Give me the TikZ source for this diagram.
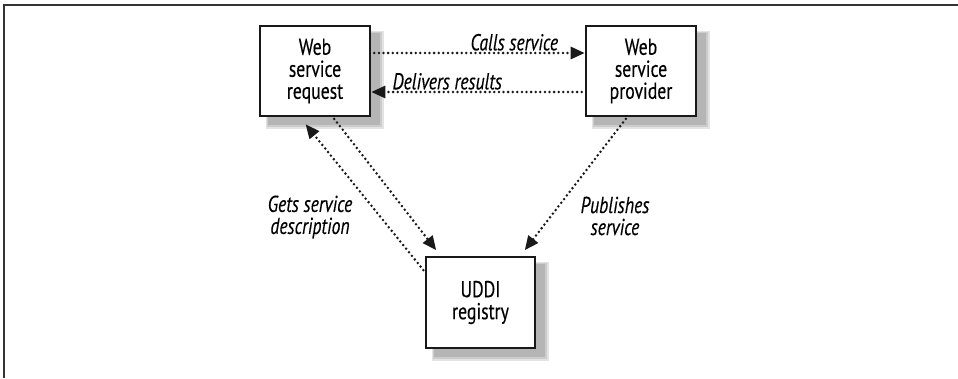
\documentclass[tikz,border=0pt]{standalone}
\usepackage{fontspec}
\setmainfont{PT Sans}[FakeStretch=0.77, FakeBold=0.3]
\usetikzlibrary{arrows.meta}
\tikzset{
  box/.style={draw=black!90, line width=2.6pt, fill=white, minimum width=110pt, minimum height=90pt, align=center, inner sep=0pt, font=\fontsize{23pt}{22pt}\selectfont},
  dotline/.style={draw=black!90, line width=2.8pt, line cap=round, dash pattern=on 0pt off 4.6pt, -{Triangle[length=14pt,width=12pt]}},
  lbl/.style={font=\fontsize{23pt}{22pt}\selectfont\itshape, align=center, inner sep=1pt, text=black},
}
\newcommand{\shadowbox}[4]{%
  \fill[gray!22] (#1+6,#2+5) rectangle (#3+14,#4+13);
  \fill[gray!40] (#1+7,#2+6) rectangle (#3+12,#4+11);
  \fill[gray!58] (#1+8,#2+7) rectangle (#3+10,#4+9);
}
\begin{document}
\begin{tikzpicture}[x=1pt,y=-1pt]
\useasboundingbox (0,0) rectangle (958,378);
\draw[black!80, line width=1.8pt] (4,378) -- (4,5) -- (958,5);
\shadowbox{260}{26}{370}{116}
\shadowbox{586}{26}{696}{116}
\shadowbox{426}{257}{535}{348}
\node[box] (req) at (315,71) {Web\\service\\request};
\node[box] (prov) at (641,71) {Web\\service\\provider};
\node[box, minimum width=109pt, minimum height=91pt] (uddi) at (480.5,302.5) {UDDI\\registry};
\draw[dotline, shorten <=3pt] ([yshift=18pt]req.east) -- ([yshift=18pt]prov.west)
  node[lbl, pos=0.67, anchor=south] {Calls service};
\draw[dotline, shorten <=3pt] ([yshift=-21pt]prov.west) -- ([yshift=-21pt]req.east)
  node[lbl, pos=0.644, anchor=south] {Delivers results};
\draw[dotline, shorten <=2pt, shorten >=7pt] ([xshift=18pt]req.south) -- ([xshift=-40pt]uddi.north);
\draw[dotline, shorten <=2pt, shorten >=7pt] ([xshift=-14pt]prov.south) -- ([xshift=40pt]uddi.north);
\draw[dotline, shorten <=2pt, shorten >=9pt] ([yshift=-16pt]uddi.north west) -- ([xshift=-15pt]req.south);
\node[lbl] (gets) at (310,217) {Gets service\\description};
\node[lbl] (pub) at (615,216) {Publishes\\service};
\end{tikzpicture}
\end{document}
